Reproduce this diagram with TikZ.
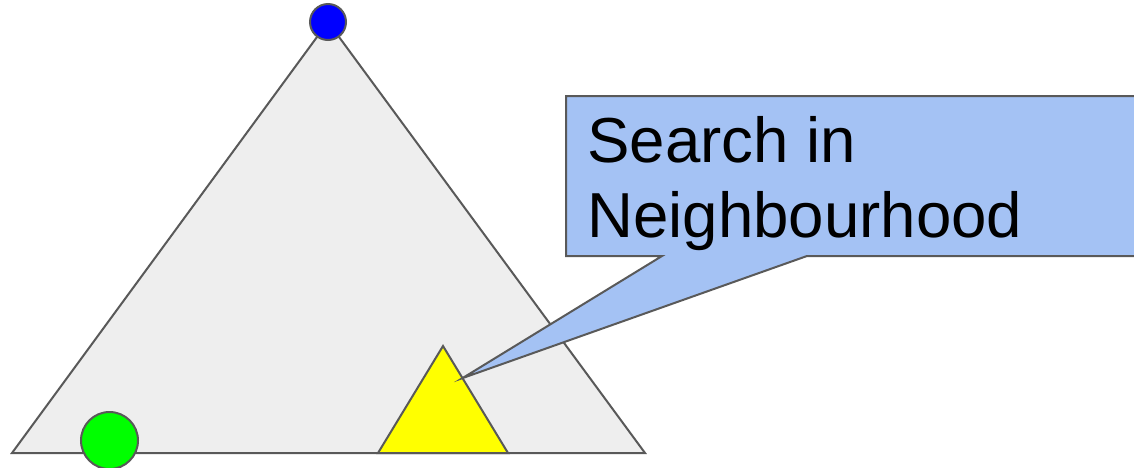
\documentclass[tikz,border=0pt]{standalone}
\usepackage{fontspec}
\setmainfont{Liberation Sans}
\usetikzlibrary{calc}
\definecolor{edgegray}{HTML}{595959}
\definecolor{treegray}{HTML}{EEEEEE}
\definecolor{calloutblue}{HTML}{A4C2F4}
\definecolor{neighyellow}{HTML}{FFFF00}
\tikzset{
    shape line/.style={draw=edgegray, line width=1pt, line join=miter},
    dot/.style={circle, shape line, inner sep=0pt}
}
\begin{document}
\begin{tikzpicture}[x=0.5pt, y=-0.5pt]
    \useasboundingbox (0,0) rectangle (1134,467);
    \clip (0,0) rectangle (1134,467);
    % search tree
    \coordinate (apex) at (328,22);
    \coordinate (baseleft) at (12,453);
    \coordinate (baseright) at (645,453);
    \draw[shape line, fill=treegray] (apex) -- (baseleft) -- (baseright) -- cycle;
    % neighbourhood
    \coordinate (ntop) at (443,346);
    \coordinate (nleft) at (378,453);
    \coordinate (nright) at (508,453);
    \draw[shape line, fill=neighyellow] (ntop) -- (nleft) -- (nright) -- cycle;
    \node[dot, fill=blue, minimum size=18pt] (root) at (apex) {};
    \node[dot, fill=green, minimum size=28.5pt] (start) at (109.5,440.5) {};
    % callout
    \coordinate (tip) at ($(ntop)!0.3!(nright)$);
    \draw[shape line, fill=calloutblue] (566,96) -- (1145,96) -- (1145,256)
        -- (807,256) -- (tip) -- (662,256) -- (566,256) -- cycle;
    \node[anchor=base west, font=\fontsize{31.8pt}{37.5pt}\selectfont,
        align=left, inner sep=0pt] (label) at (587,237) {Search in\\Neighbourhood};
\end{tikzpicture}
\end{document}
